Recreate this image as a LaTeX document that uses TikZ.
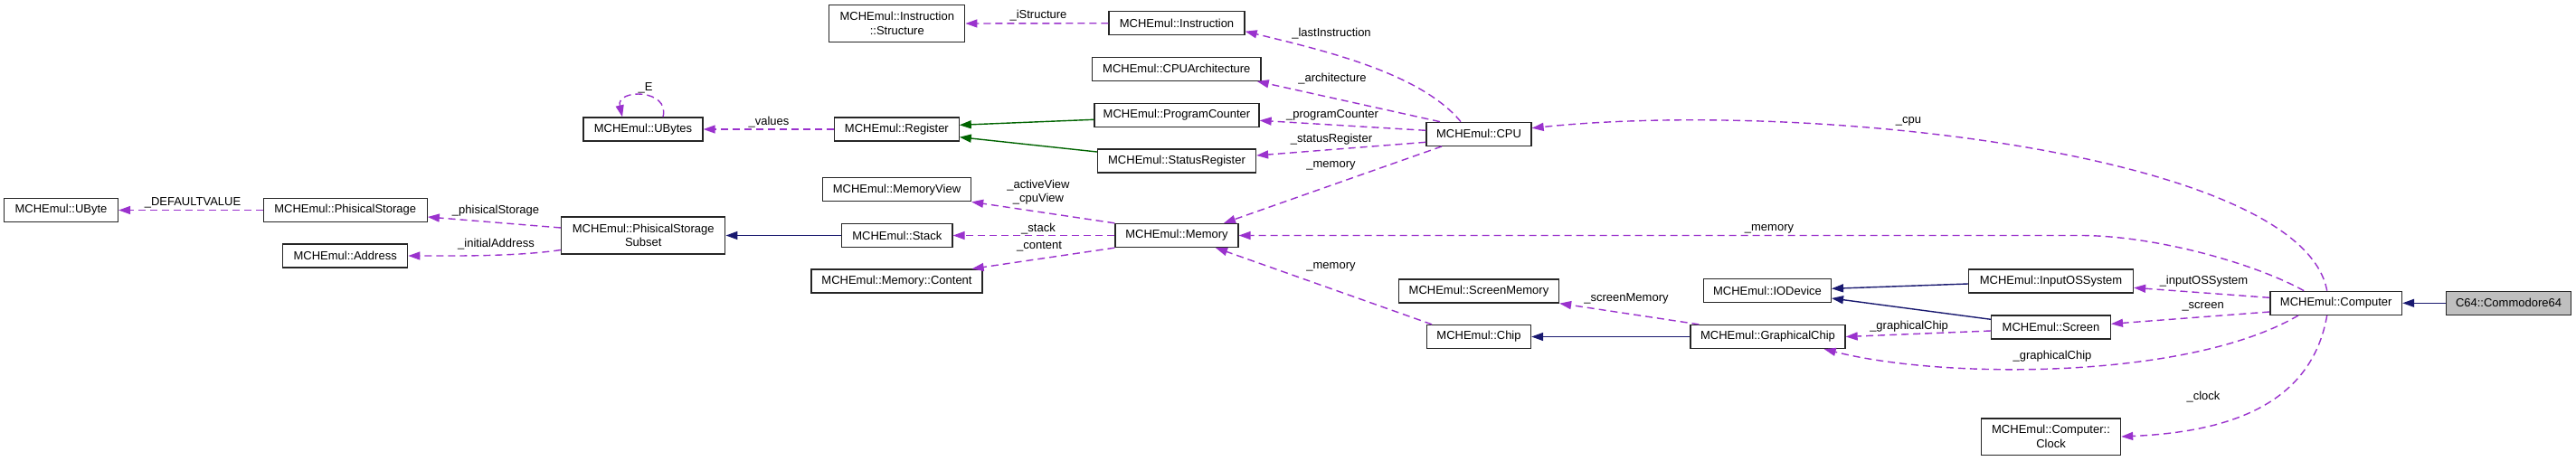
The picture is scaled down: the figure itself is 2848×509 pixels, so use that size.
\documentclass[tikz,border=0pt]{standalone}
\usepackage{fontspec}
\setmainfont{Liberation Sans}
\usetikzlibrary{arrows.meta}
\definecolor{usecol}{HTML}{9A32CD}
\definecolor{inhblue}{HTML}{191970}
\definecolor{inhgreen}{HTML}{006400}
\definecolor{boxgray}{HTML}{BFBFBF}
\begin{document}
\begin{tikzpicture}[x=1pt,y=-1pt,
  cls/.style={draw=black!85, line width=1.3pt, fill=white, inner sep=0pt, align=center,
              font=\fontsize{13}{15.5}\selectfont},
  lbl/.style={inner sep=0pt, align=center, font=\fontsize{13}{15}\selectfont},
  uses/.style={draw=usecol, line width=1.4pt, dash pattern=on 8pt off 5pt,
               -{Triangle[length=13pt,width=9pt,fill=usecol]}},
  inh/.style={draw=inhblue, line width=1.4pt, -{Triangle[length=13pt,width=9pt,fill=inhblue]}},
  inhg/.style={draw=inhgreen, line width=1.4pt, -{Triangle[length=13pt,width=9pt,fill=inhgreen]}}]
\useasboundingbox (0,0) rectangle (2848,509);
\fill[white] (0,0) rectangle (2848,509);
% nodes
\node[cls, minimum width=126pt, minimum height=26pt] (ubyte) at (67.5,232.5) {MCHEmul::UByte};
\node[cls, minimum width=181pt, minimum height=26pt] (pstorage) at (381.7,232.5) {MCHEmul::PhisicalStorage};
\node[cls, minimum width=181pt, minimum height=41pt] (psubset) at (711.3,260.5) {MCHEmul::PhisicalStorage\\Subset};
\node[cls, minimum width=138pt, minimum height=26pt] (address) at (381.7,283) {MCHEmul::Address};
\node[cls, minimum width=132pt, minimum height=26pt] (ubytes) at (711,143) {MCHEmul::UBytes};
\node[cls, minimum width=150pt, minimum height=40.6pt] (istructure) at (991.8,26) {MCHEmul::Instruction\\::Structure};
\node[cls, minimum width=150pt, minimum height=26pt] (instruction) at (1301,25.7) {MCHEmul::Instruction};
\node[cls, minimum width=186.6pt, minimum height=26pt] (cpuarch) at (1300.8,76.3) {MCHEmul::CPUArchitecture};
\node[cls, minimum width=182pt, minimum height=26pt] (pc) at (1301,127.3) {MCHEmul::ProgramCounter};
\node[cls, minimum width=137.5pt, minimum height=26pt] (register) at (991.4,143) {MCHEmul::Register};
\node[cls, minimum width=175pt, minimum height=26pt] (sr) at (1301,178) {MCHEmul::StatusRegister};
\node[cls, minimum width=116pt, minimum height=26pt] (cpu) at (1635,148.3) {MCHEmul::CPU};
\node[cls, minimum width=164pt, minimum height=26pt] (memview) at (991.5,209.7) {MCHEmul::MemoryView};
\node[cls, minimum width=122.4pt, minimum height=26pt] (stack) at (991.8,260.5) {MCHEmul::Stack};
\node[cls, minimum width=136pt, minimum height=26pt] (memory) at (1301,260.5) {MCHEmul::Memory};
\node[cls, minimum width=189pt, minimum height=26pt] (content) at (991.5,311) {MCHEmul::Memory::Content};
\node[cls, minimum width=177pt, minimum height=26pt] (screenmem) at (1635,322) {MCHEmul::ScreenMemory};
\node[cls, minimum width=115pt, minimum height=26pt] (chip) at (1635,372.5) {MCHEmul::Chip};
\node[cls, minimum width=140.7pt, minimum height=26pt] (iodevice) at (1954,321.7) {MCHEmul::IODevice};
\node[cls, minimum width=182pt, minimum height=26pt] (inputos) at (2267.5,311) {MCHEmul::InputOSSystem};
\node[cls, minimum width=171pt, minimum height=26pt] (graphchip) at (1954.5,372.5) {MCHEmul::GraphicalChip};
\node[cls, minimum width=131.7pt, minimum height=26pt] (screen) at (2267.5,362) {MCHEmul::Screen};
\node[cls, minimum width=145.7pt, minimum height=26pt] (computer) at (2582.7,335.3) {MCHEmul::Computer};
\node[cls, fill=boxgray, minimum width=138pt, minimum height=26pt] (c64) at (2773.5,335.3) {C64::Commodore64};
\node[cls, minimum width=154pt, minimum height=40.3pt] (clock) at (2267.5,483) {MCHEmul::Computer::\\Clock};
% connectors
\draw[uses] (pstorage.west) -- (ubyte.east);
\draw[uses] ([yshift=8.5pt]psubset.west) -- ([yshift=-7.5pt]pstorage.east);
\draw[uses] ([yshift=-16pt]psubset.west) .. controls (570,284) and (500,283) .. (address.east);
\draw[uses] (register.west) -- (ubytes.east);
\draw[uses] ([xshift=22pt]ubytes.north) .. controls (741,98) and (681,98) .. ([xshift=-23pt]ubytes.north);
\draw[uses] (instruction.west) -- (istructure.east);
\draw[uses] ([xshift=-20pt]cpu.north) .. controls (1570,80) and (1460,55) .. ([yshift=-9pt]instruction.east);
\draw[uses] ([xshift=-43pt]cpu.north) -- ([xshift=-5pt]cpuarch.south east);
\draw[uses] ([yshift=4pt]cpu.west) -- ([yshift=-6pt]pc.east);
\draw[uses] ([yshift=-9pt]cpu.west) -- ([yshift=6pt]sr.east);
\draw[uses] ([xshift=-41pt]cpu.south) -- ([xshift=52pt]memory.north);
\draw[inhg] ([yshift=-5pt]pc.west) -- ([yshift=4.7pt]register.east);
\draw[inhg] ([yshift=10pt]sr.west) -- ([yshift=-8.7pt]register.east);
\draw[uses] (memory.north west) -- (memview.south east);
\draw[uses] (memory.west) -- (stack.east);
\draw[uses] (memory.south west) -- ([xshift=-12pt]content.north east);
\draw[inh] (stack.west) -- (psubset.east);
\draw[uses] ([xshift=-52pt]chip.north) -- ([xshift=43pt]memory.south);
\draw[inh] (graphchip.west) -- (chip.east);
\draw[uses] ([xshift=10pt]graphchip.north west) -- (screenmem.south east);
\draw[inh] ([yshift=-3pt]inputos.west) -- ([yshift=2.4pt]iodevice.east);
\draw[inh] ([yshift=8.7pt]screen.west) -- ([yshift=-8.3pt]iodevice.east);
\draw[uses] ([yshift=-4pt]screen.west) -- (graphchip.east);
\draw[uses] ([xshift=-10pt]computer.north) .. controls (2545,170) and (2000,110) .. ([yshift=6.6pt]cpu.east);
\draw[uses] ([xshift=38pt]computer.north west) .. controls (2490,290) and (2380,260.5) .. (2300,260.5) -- (memory.east);
\draw[uses] ([yshift=6pt]computer.west) -- ([yshift=-7.3pt]inputos.east);
\draw[uses] ([yshift=-9.7pt]computer.west) -- ([yshift=3.7pt]screen.east);
\draw[uses] ([xshift=-41.7pt]computer.south) .. controls (2420,420) and (2150,420) .. ([xshift=-24pt]graphchip.south east);
\draw[uses] ([xshift=-10pt]computer.south) .. controls (2555,450) and (2460,478) .. (clock.east);
\draw[inh] (c64.west) -- (computer.east);
% labels
\node[lbl] (l1) at (213,224) {\_DEFAULTVALUE};
\node[lbl] (l2) at (548,233) {\_phisicalStorage};
\node[lbl] (l3) at (548.5,270) {\_initialAddress};
\node[lbl] (l4) at (850,135) {\_values};
\node[lbl] (l5) at (713.5,97) {\_E};
\node[lbl] (l6) at (1148,17) {\_iStructure};
\node[lbl] (l7) at (1472,37) {\_lastInstruction};
\node[lbl] (l8) at (1473,87) {\_architecture};
\node[lbl] (l9) at (1473,127) {\_programCounter};
\node[lbl] (l10) at (1472,154) {\_statusRegister};
\node[lbl] (l11) at (1471.5,183) {\_memory};
\node[lbl] (l12) at (1148,213) {\_activeView\\\_cpuView};
\node[lbl] (l13) at (1148,252.7) {\_stack};
\node[lbl] (l14) at (1149,272.7) {\_content};
\node[lbl] (l15) at (1471.5,295) {\_memory};
\node[lbl] (l16) at (1798,330) {\_screenMemory};
\node[lbl] (l17) at (2110,134) {\_cpu};
\node[lbl] (l18) at (1956,253) {\_memory};
\node[lbl] (l19) at (2436.5,310.7) {\_inputOSSystem};
\node[lbl] (l20) at (2435.6,339) {\_screen};
\node[lbl] (l21) at (2110.6,360.7) {\_graphicalChip};
\node[lbl] (l22) at (2269,394) {\_graphicalChip};
\node[lbl] (l23) at (2436,438.7) {\_clock};
\end{tikzpicture}
\end{document}
